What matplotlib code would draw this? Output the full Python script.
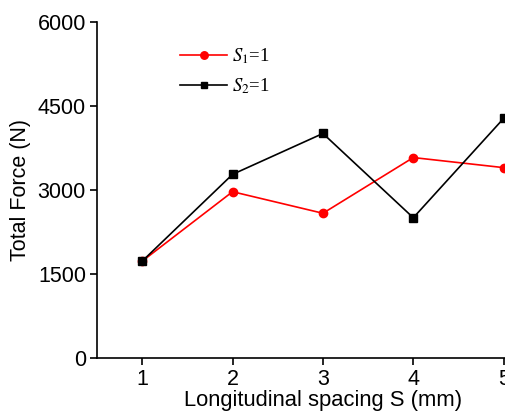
import matplotlib
matplotlib.use("Agg")
import matplotlib.pyplot as plt

spacing = [1, 2, 3, 4, 5]
force_s1 = [1730, 2970, 2585, 3580, 3400]
force_s2 = [1730, 3280, 4010, 2505, 4280]
yticks = [0, 1500, 3000, 4500, 6000]

plt.rcParams['font.family'] = ['Liberation Sans', 'DejaVu Sans']
plt.rcParams['mathtext.fontset'] = 'stix'

fig = plt.figure(figsize=(5.06, 4.12), dpi=100)
# axes runs past the right edge like the cropped original
ax = fig.add_axes([0.1917, 0.131, 0.893, 0.8155])

ax.plot(spacing, force_s1, color='red', marker='o', markersize=6, linewidth=1.2,
        label=r'$S_{\mathit{1}}$=1')
ax.plot(spacing, force_s2, color='black', marker='s', markersize=5.5, linewidth=1.2,
        label=r'$S_{\mathit{2}}$=1')

ax.set_xlim(0.5, 5.5)
ax.set_ylim(0, 6000)
ax.set_xticks(spacing)
ax.set_yticks(yticks)
ax.tick_params(direction='out', length=5, width=1.2, labelsize=15.5, pad=3)
for s in ['top', 'right']:
    ax.spines[s].set_visible(False)
for s in ['left', 'bottom']:
    ax.spines[s].set_linewidth(1.2)

ax.set_xlabel('Longitudinal spacing S (mm)', fontsize=15.8, labelpad=0)
ax.set_ylabel('Total Force (N)', fontsize=15.5, labelpad=5)

leg = ax.legend(loc='upper left', bbox_to_anchor=(0.147, 0.977), frameon=False,
                handlelength=2.5, handletextpad=0.25, labelspacing=0.55,
                markerscale=0.9, prop={'family': 'Liberation Serif', 'size': 13.5})

fig.savefig('out.png', dpi=100)
